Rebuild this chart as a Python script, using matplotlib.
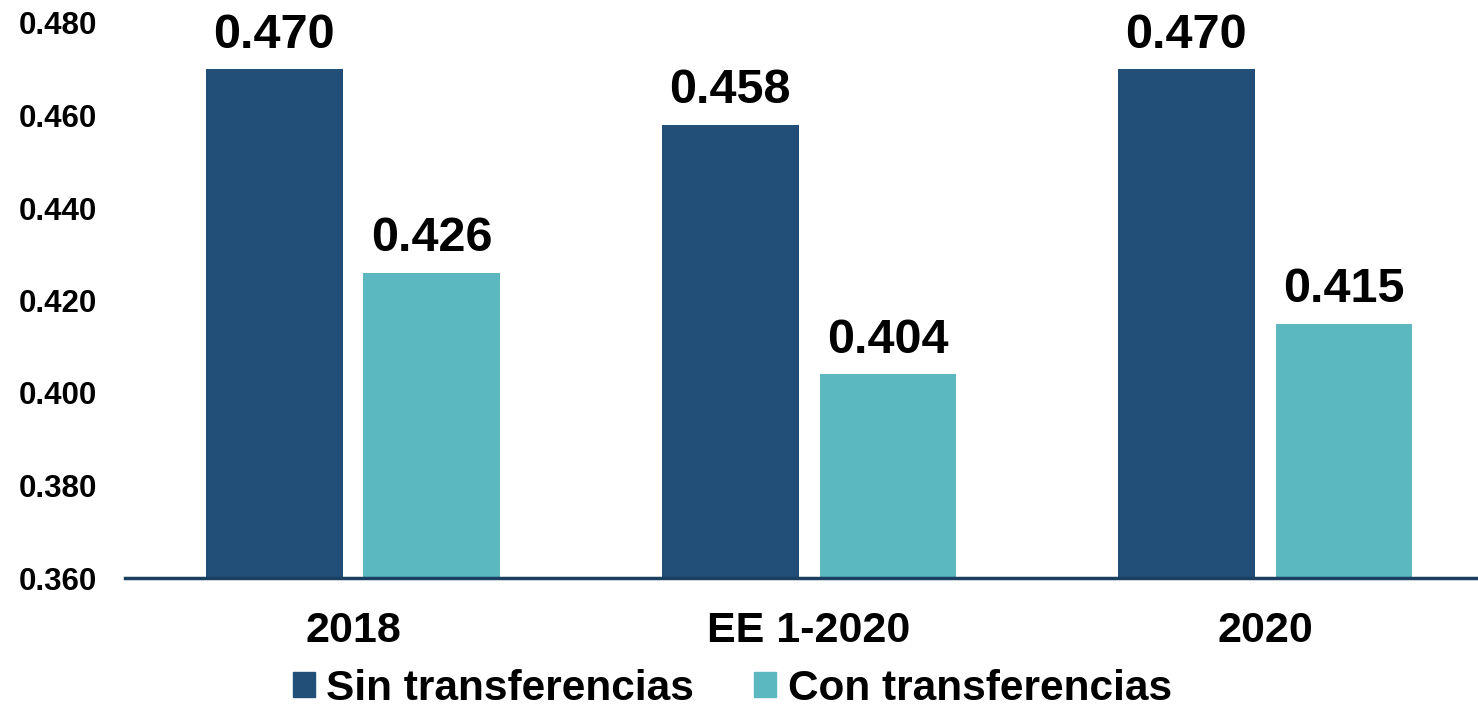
import matplotlib
matplotlib.use("Agg")
from matplotlib import pyplot as plt
from matplotlib.patches import Patch
import numpy as np

plt.rcParams['font.family'] = ['Liberation Sans', 'DejaVu Sans']
plt.rcParams['font.weight'] = 'bold'

# data
categories = ['2018', 'EE 1-2020', '2020']
sin_transf = [0.470, 0.458, 0.470]
con_transf = [0.426, 0.404, 0.415]
series_names = ['Sin transferencias', 'Con transferencias']
yticks = [0.360, 0.380, 0.400, 0.420, 0.440, 0.460, 0.480]

dark = '#214F78'
light = '#5BB7C0'

fig = plt.figure(figsize=(14.78, 7.07), dpi=100)
ax = fig.add_axes([125/1478, 1-578/707, 1-125/1478, 555/707])

x = np.arange(len(categories))
w = 0.30
off = 0.173
b1 = ax.bar(x - off, sin_transf, w, color=dark, bottom=0, zorder=2)
b2 = ax.bar(x + off, con_transf, w, color=light, bottom=0, zorder=2)

# value labels above bars
for bars in (b1, b2):
    for r in bars:
        h = r.get_height()
        ax.text(r.get_x() + r.get_width()/2, h + 0.0025, f'{h:.3f}',
                ha='center', va='bottom', fontsize=35, fontweight='bold')

ax.set_ylim(0.360, 0.480)
ax.set_xlim(-0.5, 2.467)
ax.set_yticks(yticks)
ax.set_yticklabels([f'{v:.3f}' for v in yticks], fontsize=22.5, fontweight='bold')
ax.set_xticks(x)
ax.set_xticklabels(categories, fontsize=31, fontweight='bold')
ax.tick_params(axis='both', length=0)
ax.tick_params(axis='y', pad=20)
ax.tick_params(axis='x', pad=24)

for s in ['top', 'right', 'left']:
    ax.spines[s].set_visible(False)
ax.spines['bottom'].set_color('#1B3F60')
ax.spines['bottom'].set_linewidth(2.5)
ax.spines['bottom'].set_zorder(3)

handles = [Patch(color=dark), Patch(color=light)]
fig.legend(handles, series_names, loc='center', bbox_to_anchor=(0.4956, 0.026),
           ncol=2, frameon=False, prop={'size': 30.5, 'weight': 'bold'},
           handlelength=0.52, handleheight=0.52, handletextpad=0.28,
           columnspacing=1.42)

fig.savefig('out.png', dpi=100)
